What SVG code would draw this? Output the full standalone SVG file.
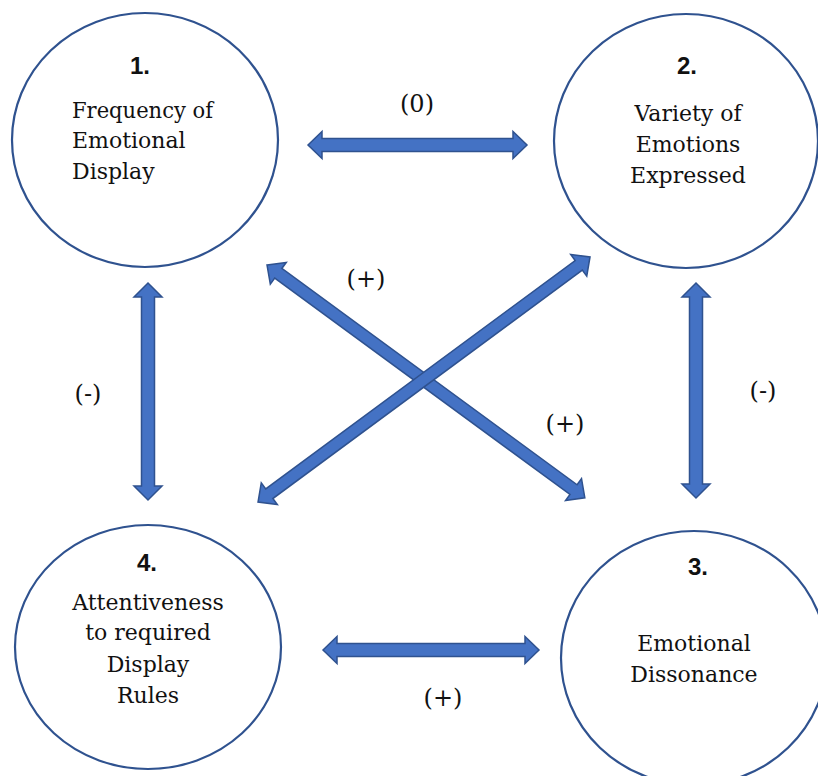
<svg xmlns="http://www.w3.org/2000/svg" width="818" height="776" viewBox="0 0 818 776">
<defs>
<style>
.node{fill:#fff;stroke:#2F528F;stroke-width:2.2}
.arr{fill:#4472C4;stroke:#2F528F;stroke-width:1.5;stroke-linejoin:miter}
.num{font-family:'Liberation Sans',Arial,sans-serif;font-weight:bold;font-size:24px;fill:#111;text-anchor:middle}
.t{font-family:'DejaVu Serif','Liberation Serif',serif;font-size:22px;fill:#111}
.c{text-anchor:middle}
.lbl{font-family:'DejaVu Serif','Liberation Serif',serif;font-size:24px;fill:#111;text-anchor:middle}
</style>
</defs>
<rect width="818" height="776" fill="#fff"/>
<g id="connectors">
<path class="arr" transform="translate(308,145)" d="M0,0 L14,-13.5 L14,-6.5 L205,-6.5 L205,-13.5 L219,0 L205,13.5 L205,6.5 L14,6.5 L14,13.5 Z"/>
<path class="arr" transform="translate(323,650)" d="M0,0 L14,-13.5 L14,-6.5 L202,-6.5 L202,-13.5 L216,0 L202,13.5 L202,6.5 L14,6.5 L14,13.5 Z"/>
<path class="arr" transform="translate(148,283) rotate(90)" d="M0,0 L14,-14 L14,-6.5 L203,-6.5 L203,-14 L217,0 L203,14 L203,6.5 L14,6.5 L14,14 Z"/>
<path class="arr" transform="translate(696,283) rotate(90)" d="M0,0 L14,-14 L14,-6.5 L201,-6.5 L201,-14 L215,0 L201,14 L201,6.5 L14,6.5 L14,14 Z"/>
<path class="arr" transform="translate(267,265) rotate(36.23)" d="M0,0 L14,-13.5 L14,-6 L380,-6 L380,-13.5 L394,0 L380,13.5 L380,6 L14,6 L14,13.5 Z"/>
<path class="arr" transform="translate(590,257) rotate(143.57)" d="M0,0 L14,-13.5 L14,-6 L398.6,-6 L398.6,-13.5 L412.6,0 L398.6,13.5 L398.6,6 L14,6 L14,13.5 Z"/>
<text class="lbl" x="417" y="112">(0)</text>
<text class="lbl" x="366" y="287">(+)</text>
<text class="lbl" x="565" y="432">(+)</text>
<text class="lbl" x="88" y="402">(-)</text>
<text class="lbl" x="763" y="399">(-)</text>
<text class="lbl" x="443" y="706">(+)</text>
</g>
<g id="node1">
<ellipse class="node" cx="145" cy="140" rx="133" ry="127"/>
<text class="num" x="140" y="74">1.</text>
<text class="t" x="72" y="118" textLength="141" lengthAdjust="spacingAndGlyphs">Frequency of</text>
<text class="t" x="72" y="148">Emotional</text>
<text class="t" x="72" y="179">Display</text>
</g>
<g id="node2">
<ellipse class="node" cx="686" cy="141" rx="132" ry="127"/>
<text class="num" x="687" y="74">2.</text>
<text class="t c" x="688" y="121">Variety of</text>
<text class="t c" x="688" y="152">Emotions</text>
<text class="t c" x="688" y="183">Expressed</text>
</g>
<g id="node3">
<ellipse class="node" cx="694" cy="658" rx="133" ry="127"/>
<text class="num" x="698" y="575">3.</text>
<text class="t c" x="694" y="651">Emotional</text>
<text class="t c" x="694" y="682">Dissonance</text>
</g>
<g id="node4">
<ellipse class="node" cx="148" cy="647" rx="133" ry="122"/>
<text class="num" x="147" y="571">4.</text>
<text class="t c" x="148" y="610">Attentiveness</text>
<text class="t c" x="148" y="640">to required</text>
<text class="t c" x="148" y="672">Display</text>
<text class="t c" x="148" y="703">Rules</text>
</g>
</svg>
